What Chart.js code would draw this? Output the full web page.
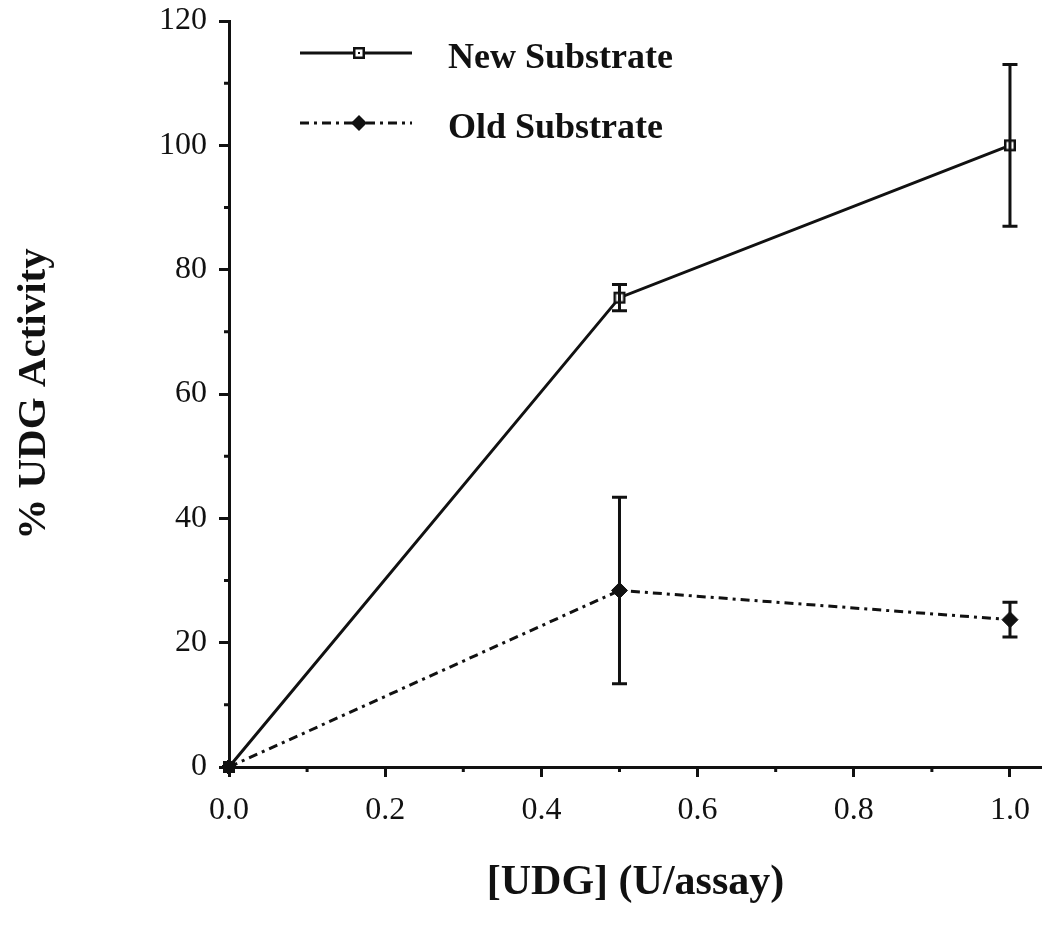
<!DOCTYPE html>
<html>
<head>
<meta charset="utf-8">
<style>
  html, body { margin: 0; padding: 0; background: #fff; }
  #wrap { width: 1042px; height: 925px; position: relative; }
</style>
<script src="https://cdn.jsdelivr.net/npm/chart.js@4.4.1/dist/chart.umd.min.js"></script>
</head>
<body>
<div id="wrap"><canvas id="chart" width="1042" height="925"></canvas></div>
<script>
// data
const doses = [0, 0.5, 1.0];
const newSubstrate = [0, 75.5, 100];
const newErr = [0, 2.1, 13];
const oldSubstrate = [0, 28.4, 23.7];
const oldErr = [0, 15, 2.8];

const xMajorStep = 0.2;
const xMinorTicks = [0.1, 0.3, 0.5, 0.7, 0.9];
const yMinorTicks = [10, 30, 50, 70, 90, 110];

const ink = '#111';
const serif = "'Liberation Serif', 'DejaVu Serif', serif";

function squareMarker(filled) {
    const c = document.createElement('canvas');
    c.width = 14; c.height = 14;
    const g = c.getContext('2d');
    g.fillStyle = ink;
    g.fillRect(1, 1, 12, 12);
    if (!filled) {
        g.fillStyle = '#fff';
        g.fillRect(3.5, 3.5, 7, 7);
        g.fillStyle = ink;
        g.fillRect(6, 6, 2, 2);
    }
    return c;
}
const openSquare = squareMarker(false);
const filledSquare = squareMarker(true);

function toPoints(ys) {
    return doses.map((x, i) => ({ x: x, y: ys[i] }));
}

const errorBars = {
    id: 'errorBars',
    afterDatasetsDraw(chart) {
        const ctx = chart.ctx;
        const xs = chart.scales.x, ys = chart.scales.y;
        const sets = [[newSubstrate, newErr], [oldSubstrate, oldErr]];
        ctx.save();
        ctx.strokeStyle = ink;
        ctx.lineWidth = 3;
        sets.forEach(([vals, errs]) => {
            vals.forEach((v, i) => {
                if (!errs[i]) return;
                const px = xs.getPixelForValue(doses[i]);
                const top = ys.getPixelForValue(v + errs[i]);
                const bot = ys.getPixelForValue(v - errs[i]);
                ctx.beginPath();
                ctx.moveTo(px, top); ctx.lineTo(px, bot);
                ctx.moveTo(px - 7.5, top); ctx.lineTo(px + 7.5, top);
                ctx.moveTo(px - 7.5, bot); ctx.lineTo(px + 7.5, bot);
                ctx.stroke();
            });
        });
        ctx.restore();
    }
};

const minorTicks = {
    id: 'minorTicks',
    afterDraw(chart) {
        const ctx = chart.ctx;
        const xs = chart.scales.x, ys = chart.scales.y;
        const area = chart.chartArea;
        ctx.save();
        ctx.strokeStyle = ink;
        ctx.lineWidth = 3;
        ctx.beginPath();
        xMinorTicks.forEach(v => {
            const px = xs.getPixelForValue(v);
            ctx.moveTo(px, area.bottom);
            ctx.lineTo(px, area.bottom + 5);
        });
        yMinorTicks.forEach(v => {
            const py = ys.getPixelForValue(v);
            ctx.moveTo(area.left, py);
            ctx.lineTo(area.left - 5, py);
        });
        ctx.stroke();
        ctx.restore();
    }
};

const legendBox = {
    id: 'legendBox',
    afterDraw(chart) {
        const ctx = chart.ctx;
        const rows = [
            { label: 'New Substrate', y: 53, dash: [], marker: 'square' },
            { label: 'Old Substrate', y: 123, dash: [9, 5, 3, 5], marker: 'diamond' }
        ];
        ctx.save();
        rows.forEach(r => {
            ctx.strokeStyle = ink;
            ctx.lineWidth = 3;
            ctx.setLineDash(r.dash);
            ctx.beginPath();
            ctx.moveTo(300, r.y);
            ctx.lineTo(412, r.y);
            ctx.stroke();
            ctx.setLineDash([]);
            if (r.marker === 'square') {
                ctx.drawImage(openSquare, 359 - 7, r.y - 7);
            } else {
                ctx.fillStyle = ink;
                ctx.beginPath();
                ctx.moveTo(359, r.y - 8);
                ctx.lineTo(367, r.y);
                ctx.lineTo(359, r.y + 8);
                ctx.lineTo(351, r.y);
                ctx.closePath();
                ctx.fill();
            }
            ctx.fillStyle = ink;
            ctx.font = 'bold 36px ' + serif;
            ctx.textAlign = 'left';
            ctx.textBaseline = 'middle';
            ctx.fillText(r.label, 448, r.y + 6);
        });
        ctx.restore();
    }
};

const ctx = document.getElementById('chart').getContext('2d');
new Chart(ctx, {
    type: 'scatter',
    data: {
        datasets: [{
            label: 'New Substrate',
            data: toPoints(newSubstrate),
            showLine: true,
            clip: false,
            borderColor: ink,
            borderWidth: 3,
            pointStyle: [filledSquare, openSquare, openSquare],
            pointRadius: 7
        }, {
            label: 'Old Substrate',
            data: toPoints(oldSubstrate),
            showLine: true,
            clip: false,
            borderColor: ink,
            borderWidth: 3,
            borderDash: [9, 5, 3, 5],
            pointStyle: 'rectRot',
            pointRadius: 8,
            pointBackgroundColor: ink,
            pointBorderColor: ink,
            pointBorderWidth: 1
        }]
    },
    options: {
        responsive: false,
        animation: false,
        devicePixelRatio: 1,
        layout: { autoPadding: false, padding: { top: 21, right: 0, left: 0, bottom: 0 } },
        plugins: {
            legend: { display: false },
            tooltip: { enabled: false }
        },
        scales: {
            x: {
                type: 'linear',
                min: 0,
                max: 1.041,
                afterFit(scale) {
                    scale.height = 158;
                    scale.paddingLeft = 0;
                    scale.paddingRight = 0;
                },
                border: { display: true, color: ink, width: 3 },
                grid: { display: true, drawOnChartArea: false, drawTicks: true, tickLength: 10, color: ink, lineWidth: 3 },
                ticks: {
                    stepSize: xMajorStep,
                    includeBounds: false,
                    padding: 14,
                    color: ink,
                    font: { family: serif, size: 32 },
                    callback: v => v.toFixed(1)
                },
                title: {
                    display: true,
                    text: '[UDG] (U/assay)',
                    color: ink,
                    font: { family: serif, size: 42, weight: 'bold' },
                    padding: { top: 0, bottom: 17 }
                }
            },
            y: {
                type: 'linear',
                min: 0,
                max: 120,
                afterFit(scale) {
                    scale.width = 229;
                    scale.paddingTop = 0;
                    scale.paddingBottom = 0;
                },
                border: { display: true, color: ink, width: 3 },
                grid: { display: true, drawOnChartArea: false, drawTicks: true, tickLength: 10, color: ink, lineWidth: 3 },
                ticks: {
                    stepSize: 20,
                    padding: 12,
                    color: ink,
                    font: { family: serif, size: 32 }
                },
                title: {
                    display: true,
                    text: '% UDG Activity',
                    color: ink,
                    font: { family: serif, size: 41, weight: 'bold' },
                    padding: { top: 10, bottom: 0 }
                }
            }
        }
    },
    plugins: [errorBars, minorTicks, legendBox]
});
</script>
</body>
</html>
